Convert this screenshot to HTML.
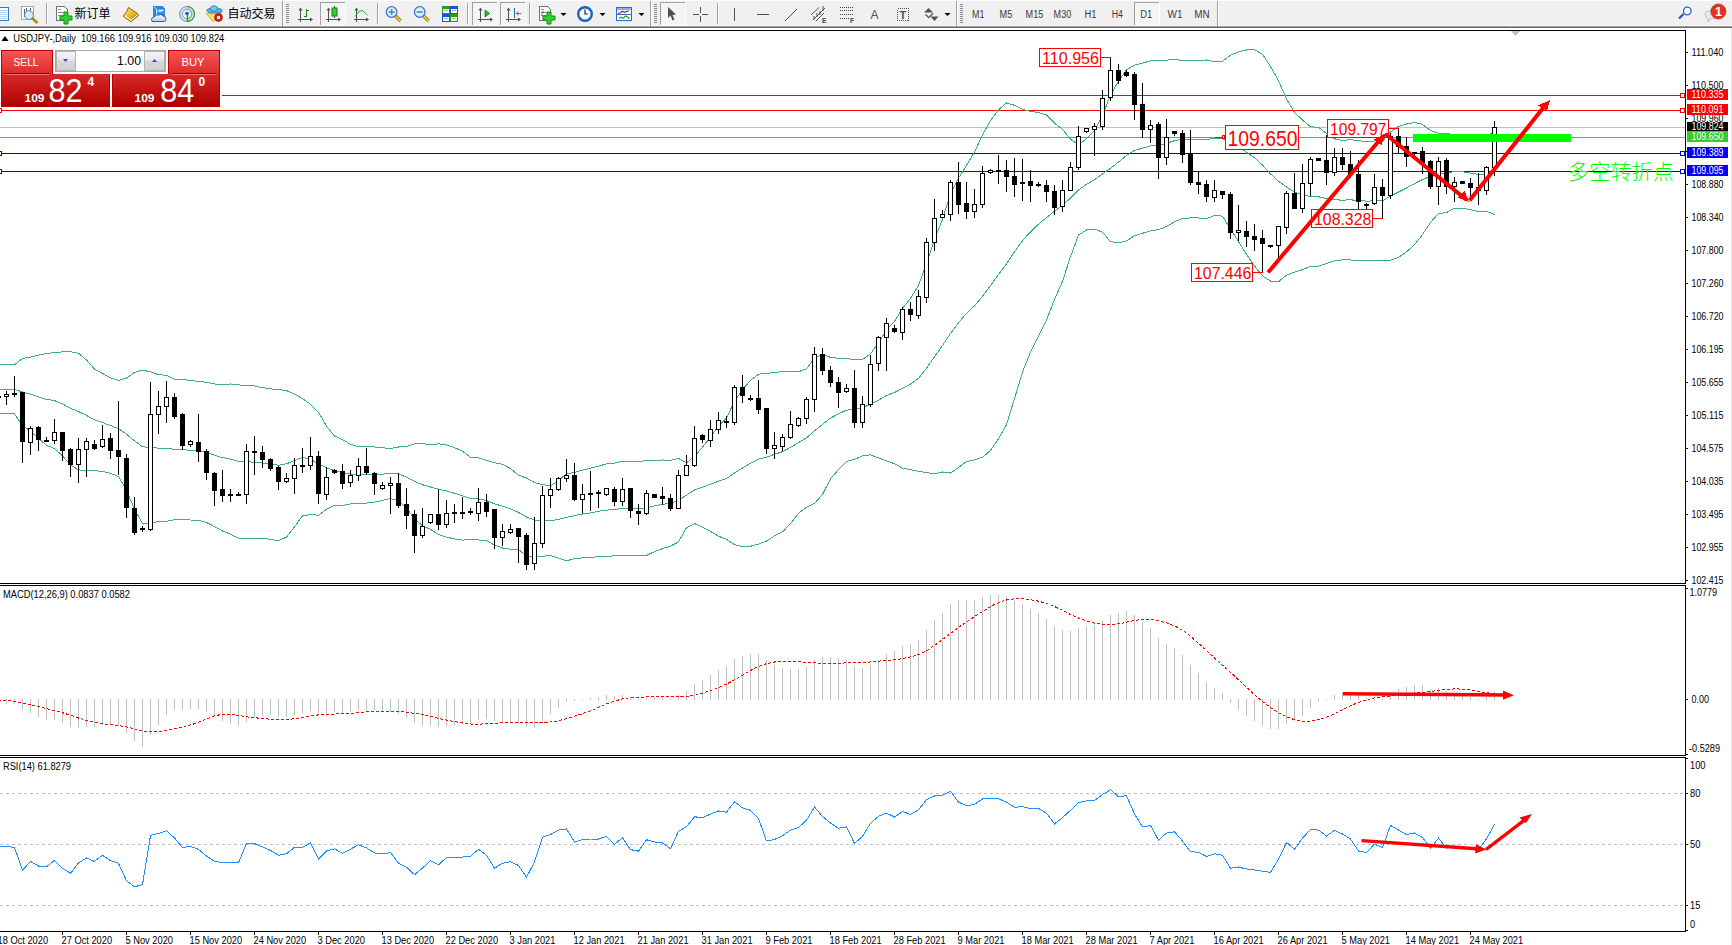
<!DOCTYPE html>
<html><head><meta charset="utf-8"><title>USDJPY Daily</title>
<style>html,body{margin:0;padding:0;background:#fff;width:1732px;height:945px;overflow:hidden}svg{display:block}</style>
</head><body>
<svg width="1732" height="945" viewBox="0 0 1732 945" shape-rendering="crispEdges">
<rect x="0" y="0" width="1732" height="945" fill="#fff"/><rect x="0" y="95" width="1685" height="1" fill="#f00"/><rect x="0" y="110" width="1685" height="1" fill="#f00"/><rect x="0" y="127" width="1685" height="1" fill="#c0c0c0"/><rect x="0" y="137" width="1685" height="1" fill="#32cd32"/><rect x="0" y="153" width="1685" height="1" fill="#00f"/><rect x="0" y="171" width="1685" height="1" fill="#00f"/><rect x="-2.5" y="108.5" width="4" height="4" fill="#fff" stroke="#f00" stroke-width="1"/><rect x="-2.5" y="151.5" width="4" height="4" fill="#fff" stroke="#00f" stroke-width="1"/><rect x="-2.5" y="169.5" width="4" height="4" fill="#fff" stroke="#00f" stroke-width="1"/><rect x="1680.5" y="93.5" width="4" height="4" fill="#fff" stroke="#f00" stroke-width="1"/><rect x="1680.5" y="108.5" width="4" height="4" fill="#fff" stroke="#f00" stroke-width="1"/><rect x="1680.5" y="151.5" width="4" height="4" fill="#fff" stroke="#00f" stroke-width="1"/><rect x="1680.5" y="169.5" width="4" height="4" fill="#fff" stroke="#00f" stroke-width="1"/><polyline points="-2,364.6 6.5,364.6 14.5,364.8 22.5,358.5 30.5,357.1 38.5,355.1 46.5,353.5 54.5,352.7 62.5,351.9 70.5,351.6 78.5,353.3 86.5,360.0 94.5,369.1 102.5,373.5 110.5,377.9 118.5,380.4 126.5,378.1 134.5,372.4 142.5,370.1 150.5,371.9 158.5,374.7 166.5,375.3 174.5,379.1 182.5,379.3 190.5,380.6 198.5,381.3 206.5,382.4 214.5,384.0 222.5,384.2 230.5,384.0 238.5,384.8 246.5,385.7 254.5,385.9 262.5,387.7 270.5,388.8 278.5,389.7 286.5,390.5 294.5,394.1 302.5,398.7 310.5,404.2 318.5,412.3 326.5,426.1 334.5,436.1 342.5,439.5 350.5,444.3 358.5,446.7 366.5,446.7 374.5,447.0 382.5,447.7 390.5,448.6 398.5,447.0 406.5,446.7 414.5,443.8 422.5,443.7 430.5,444.7 438.5,443.9 446.5,444.7 454.5,447.7 462.5,451.2 470.5,457.3 478.5,457.8 486.5,460.4 494.5,462.6 502.5,464.4 510.5,468.5 518.5,475.3 526.5,478.0 534.5,482.5 542.5,484.6 550.5,486.0 558.5,480.4 566.5,473.9 574.5,472.4 582.5,470.1 590.5,468.2 598.5,466.2 606.5,463.8 614.5,463.2 622.5,461.2 630.5,461.2 638.5,461.8 646.5,460.4 654.5,460.2 662.5,460.0 670.5,460.4 678.5,458.5 686.5,462.8 694.5,456.4 702.5,447.2 710.5,436.9 718.5,426.4 726.5,417.9 734.5,401.3 742.5,389.6 750.5,380.3 758.5,374.2 766.5,373.2 774.5,372.8 782.5,371.5 790.5,371.1 798.5,371.8 806.5,368.7 814.5,358.1 822.5,354.3 830.5,357.4 838.5,358.3 846.5,358.8 854.5,359.3 862.5,359.5 870.5,353.9 878.5,342.6 886.5,329.8 894.5,321.4 902.5,308.5 910.5,298.4 918.5,285.5 926.5,263.6 934.5,239.7 942.5,219.3 950.5,194.0 958.5,178.1 966.5,165.5 974.5,152.0 982.5,134.9 990.5,120.5 998.5,109.9 1006.5,102.9 1014.5,105.3 1022.5,109.3 1030.5,111.4 1038.5,112.5 1046.5,115.0 1054.5,123.2 1062.5,129.3 1070.5,139.2 1078.5,145.0 1086.5,138.6 1094.5,130.3 1102.5,115.7 1110.5,94.9 1118.5,81.4 1126.5,69.7 1134.5,65.1 1142.5,63.1 1150.5,60.9 1158.5,60.9 1166.5,60.1 1174.5,59.7 1182.5,60.3 1190.5,60.5 1198.5,60.5 1206.5,60.0 1214.5,61.8 1222.5,61.4 1230.5,55.2 1238.5,51.8 1246.5,50.0 1254.5,49.6 1262.5,54.3 1270.5,66.6 1278.5,80.7 1286.5,98.9 1294.5,112.3 1302.5,120.1 1310.5,126.8 1318.5,127.3 1326.5,133.5 1334.5,138.8 1342.5,140.6 1350.5,139.6 1358.5,140.9 1366.5,141.3 1374.5,141.0 1382.5,141.1 1390.5,132.0 1398.5,126.4 1406.5,124.0 1414.5,122.5 1422.5,124.4 1430.5,130.6 1438.5,133.1 1446.5,133.3 1454.5,135.2 1462.5,135.2 1470.5,136.4 1478.5,137.6 1486.5,137.2 1494.5,130.9" fill="none" stroke="#3cb371" stroke-width="1"/><polyline points="-2,389.0 6.5,389.0 14.5,389.4 22.5,392.0 30.5,394.1 38.5,396.8 46.5,399.4 54.5,400.6 62.5,403.9 70.5,408.3 78.5,411.5 86.5,415.4 94.5,419.9 102.5,422.5 110.5,425.6 118.5,428.5 126.5,434.2 134.5,440.8 142.5,446.8 150.5,447.4 158.5,448.1 166.5,448.3 174.5,449.4 182.5,449.6 190.5,450.3 198.5,450.9 206.5,452.4 214.5,455.3 222.5,457.6 230.5,459.1 238.5,461.4 246.5,461.9 254.5,462.1 262.5,463.1 270.5,464.0 278.5,465.3 286.5,463.8 294.5,460.5 302.5,457.3 310.5,459.4 318.5,463.8 326.5,467.8 334.5,470.6 342.5,472.5 350.5,474.1 358.5,474.9 366.5,474.9 374.5,474.6 382.5,474.1 390.5,473.5 398.5,474.0 406.5,477.2 414.5,481.4 422.5,484.7 430.5,487.0 438.5,489.2 446.5,490.9 454.5,493.3 462.5,495.7 470.5,498.4 478.5,498.9 486.5,500.6 494.5,503.8 502.5,506.2 510.5,508.9 518.5,512.4 526.5,517.0 534.5,520.0 542.5,520.4 550.5,520.7 558.5,519.4 566.5,517.4 574.5,515.6 582.5,514.0 590.5,512.9 598.5,511.3 606.5,510.1 614.5,509.5 622.5,508.3 630.5,508.3 638.5,508.9 646.5,507.9 654.5,505.9 662.5,504.3 670.5,503.3 678.5,500.2 686.5,495.2 694.5,490.0 702.5,487.2 710.5,484.2 718.5,481.3 726.5,478.6 734.5,473.0 742.5,468.0 750.5,463.3 758.5,459.1 766.5,457.1 774.5,454.3 782.5,451.7 790.5,447.4 798.5,442.6 806.5,437.9 814.5,430.8 822.5,424.4 830.5,418.1 838.5,413.9 846.5,410.1 854.5,409.4 862.5,407.6 870.5,404.4 878.5,400.2 886.5,395.4 894.5,392.6 902.5,388.3 910.5,384.1 918.5,378.4 926.5,368.1 934.5,356.8 942.5,345.6 950.5,333.5 958.5,322.8 966.5,313.4 974.5,305.9 982.5,296.1 990.5,285.5 998.5,274.4 1006.5,263.7 1014.5,251.8 1022.5,240.7 1030.5,231.8 1038.5,224.2 1046.5,217.5 1054.5,211.3 1062.5,205.4 1070.5,198.0 1078.5,190.0 1086.5,184.3 1094.5,179.7 1102.5,173.9 1110.5,168.3 1118.5,162.1 1126.5,155.4 1134.5,150.4 1142.5,148.2 1150.5,145.9 1158.5,145.3 1166.5,143.3 1174.5,140.7 1182.5,139.3 1190.5,139.2 1198.5,139.2 1206.5,139.4 1214.5,138.6 1222.5,138.8 1230.5,142.1 1238.5,146.8 1246.5,152.2 1254.5,157.8 1262.5,165.1 1270.5,173.9 1278.5,181.2 1286.5,187.0 1294.5,192.2 1302.5,194.9 1310.5,196.6 1318.5,196.8 1326.5,198.5 1334.5,199.7 1342.5,200.2 1350.5,199.8 1358.5,200.6 1366.5,201.1 1374.5,200.9 1382.5,200.9 1390.5,196.1 1398.5,192.0 1406.5,188.0 1414.5,183.6 1422.5,179.5 1430.5,176.5 1438.5,173.3 1446.5,172.9 1454.5,171.6 1462.5,171.7 1470.5,173.1 1478.5,174.5 1486.5,174.3 1494.5,172.8" fill="none" stroke="#3cb371" stroke-width="1"/><polyline points="-2,413.5 6.5,413.5 14.5,414.0 22.5,425.6 30.5,431.1 38.5,438.5 46.5,445.3 54.5,448.5 62.5,455.9 70.5,465.0 78.5,469.8 86.5,470.7 94.5,470.6 102.5,471.5 110.5,473.4 118.5,476.5 126.5,490.4 134.5,509.2 142.5,523.5 150.5,522.9 158.5,521.6 166.5,521.3 174.5,519.8 182.5,519.9 190.5,520.0 198.5,520.4 206.5,522.5 214.5,526.6 222.5,531.0 230.5,534.2 238.5,538.1 246.5,538.2 254.5,538.2 262.5,538.5 270.5,539.3 278.5,540.8 286.5,537.1 294.5,526.8 302.5,515.9 310.5,514.6 318.5,515.2 326.5,509.4 334.5,505.1 342.5,505.4 350.5,503.9 358.5,503.1 366.5,503.1 374.5,502.1 382.5,500.4 390.5,498.4 398.5,500.9 406.5,507.7 414.5,519.0 422.5,525.7 430.5,529.4 438.5,534.5 446.5,537.1 454.5,538.9 462.5,540.1 470.5,539.5 478.5,539.9 486.5,540.8 494.5,545.0 502.5,548.0 510.5,549.3 518.5,549.5 526.5,556.0 534.5,557.4 542.5,556.3 550.5,555.5 558.5,558.3 566.5,560.8 574.5,558.7 582.5,557.8 590.5,557.6 598.5,556.5 606.5,556.3 614.5,555.9 622.5,555.5 630.5,555.4 638.5,556.0 646.5,555.5 654.5,551.6 662.5,548.6 670.5,546.1 678.5,541.9 686.5,527.7 694.5,523.6 702.5,527.2 710.5,531.4 718.5,536.2 726.5,539.3 734.5,544.7 742.5,546.5 750.5,546.3 758.5,544.1 766.5,541.1 774.5,535.9 782.5,531.9 790.5,523.7 798.5,513.4 806.5,507.1 814.5,503.5 822.5,494.5 830.5,478.8 838.5,469.5 846.5,461.4 854.5,459.4 862.5,455.7 870.5,454.8 878.5,457.9 886.5,460.9 894.5,463.7 902.5,468.1 910.5,469.8 918.5,471.3 926.5,472.6 934.5,473.8 942.5,472.0 950.5,473.1 958.5,467.5 966.5,461.4 974.5,459.9 982.5,457.3 990.5,450.4 998.5,438.8 1006.5,424.6 1014.5,398.4 1022.5,372.2 1030.5,352.2 1038.5,335.8 1046.5,320.1 1054.5,299.4 1062.5,281.4 1070.5,256.7 1078.5,235.0 1086.5,230.0 1094.5,229.1 1102.5,232.1 1110.5,241.7 1118.5,242.9 1126.5,241.0 1134.5,235.7 1142.5,233.3 1150.5,230.9 1158.5,229.7 1166.5,226.5 1174.5,221.8 1182.5,218.4 1190.5,217.9 1198.5,217.9 1206.5,218.8 1214.5,215.4 1222.5,216.2 1230.5,228.9 1238.5,241.7 1246.5,254.4 1254.5,266.0 1262.5,275.9 1270.5,281.1 1278.5,281.7 1286.5,275.2 1294.5,272.2 1302.5,269.7 1310.5,266.4 1318.5,266.2 1326.5,263.5 1334.5,260.7 1342.5,259.8 1350.5,260.0 1358.5,260.4 1366.5,260.8 1374.5,260.8 1382.5,260.8 1390.5,260.3 1398.5,257.5 1406.5,251.9 1414.5,244.7 1422.5,234.6 1430.5,222.4 1438.5,213.5 1446.5,212.6 1454.5,208.1 1462.5,208.2 1470.5,209.7 1478.5,211.5 1486.5,211.3 1494.5,214.6" fill="none" stroke="#3cb371" stroke-width="1"/><path d="M-2 396h1v3h-1zM-4 396h5v2h-5zM6 391h1v14h-1zM4 394h5v3h-5zM14 376h1v21h-1zM12 393h5v2h-5zM22 392h1v71h-1zM20 392h5v50h-5zM30 426h1v29h-1zM28 428h5v15h-5zM38 426h1v25h-1zM36 427h5v13h-5zM46 437h1v5h-1zM44 440h5v2h-5zM54 419h1v25h-1zM52 432h5v9h-5zM62 432h1v29h-1zM60 432h5v19h-5zM70 448h1v29h-1zM68 449h5v16h-5zM78 438h1v45h-1zM76 449h5v16h-5zM86 438h1v39h-1zM84 441h5v9h-5zM94 440h1v10h-1zM92 444h5v5h-5zM102 425h1v23h-1zM100 439h5v8h-5zM110 433h1v26h-1zM108 438h5v13h-5zM118 401h1v74h-1zM116 450h5v7h-5zM126 454h1v64h-1zM124 458h5v50h-5zM134 497h1v38h-1zM132 508h5v25h-5zM142 526h1v6h-1zM140 528h5v2h-5zM150 382h1v149h-1zM148 414h5v116h-5zM158 391h1v43h-1zM156 406h5v9h-5zM166 381h1v42h-1zM164 397h5v10h-5zM174 393h1v26h-1zM172 397h5v20h-5zM182 413h1v37h-1zM180 414h5v32h-5zM190 440h1v7h-1zM188 441h5v4h-5zM198 414h1v48h-1zM196 442h5v10h-5zM206 449h1v31h-1zM204 451h5v22h-5zM214 472h1v34h-1zM212 473h5v18h-5zM222 470h1v32h-1zM220 489h5v7h-5zM230 489h1v13h-1zM228 494h5v2h-5zM238 492h1v4h-1zM236 494h5v2h-5zM246 444h1v60h-1zM244 451h5v44h-5zM254 436h1v39h-1zM252 451h5v2h-5zM262 446h1v22h-1zM260 452h5v8h-5zM270 458h1v13h-1zM268 459h5v10h-5zM278 466h1v24h-1zM276 467h5v15h-5zM286 473h1v10h-1zM284 478h5v4h-5zM294 458h1v36h-1zM292 465h5v14h-5zM302 448h1v25h-1zM300 465h5v2h-5zM310 437h1v33h-1zM308 456h5v10h-5zM318 451h1v53h-1zM316 456h5v38h-5zM326 467h1v33h-1zM324 477h5v18h-5zM334 469h1v5h-1zM332 470h5v3h-5zM342 464h1v25h-1zM340 471h5v13h-5zM350 470h1v17h-1zM348 475h5v8h-5zM358 458h1v23h-1zM356 466h5v10h-5zM366 448h1v27h-1zM364 466h5v7h-5zM374 472h1v23h-1zM372 473h5v11h-5zM382 482h1v8h-1zM380 485h5v4h-5zM390 477h1v37h-1zM388 483h5v3h-5zM398 473h1v35h-1zM396 483h5v23h-5zM406 488h1v41h-1zM404 504h5v12h-5zM414 510h1v43h-1zM412 514h5v22h-5zM422 508h1v30h-1zM420 526h5v10h-5zM430 514h1v10h-1zM428 514h5v9h-5zM438 489h1v41h-1zM436 514h5v11h-5zM446 500h1v28h-1zM444 513h5v12h-5zM454 504h1v19h-1zM452 512h5v2h-5zM462 497h1v22h-1zM460 512h5v2h-5zM470 508h1v7h-1zM468 511h5v2h-5zM478 488h1v33h-1zM476 502h5v12h-5zM486 494h1v23h-1zM484 502h5v10h-5zM494 509h1v40h-1zM492 509h5v29h-5zM502 524h1v22h-1zM500 531h5v7h-5zM510 524h1v10h-1zM508 529h5v4h-5zM518 528h1v35h-1zM516 528h5v9h-5zM526 533h1v37h-1zM524 535h5v30h-5zM534 517h1v53h-1zM532 543h5v21h-5zM542 486h1v62h-1zM540 495h5v49h-5zM550 478h1v30h-1zM548 489h5v7h-5zM558 477h1v14h-1zM556 478h5v12h-5zM566 459h1v23h-1zM564 475h5v4h-5zM574 463h1v38h-1zM572 475h5v25h-5zM582 484h1v29h-1zM580 494h5v6h-5zM590 471h1v40h-1zM588 493h5v2h-5zM598 490h1v18h-1zM596 492h5v2h-5zM606 488h1v8h-1zM604 488h5v7h-5zM614 487h1v19h-1zM612 489h5v13h-5zM622 478h1v28h-1zM620 489h5v13h-5zM630 488h1v30h-1zM628 488h5v23h-5zM638 504h1v21h-1zM636 511h5v3h-5zM646 490h1v25h-1zM644 493h5v21h-5zM654 494h1v4h-1zM652 494h5v4h-5zM662 487h1v18h-1zM660 496h5v3h-5zM670 494h1v17h-1zM668 498h5v11h-5zM678 470h1v39h-1zM676 475h5v34h-5zM686 455h1v21h-1zM684 465h5v11h-5zM694 426h1v41h-1zM692 438h5v28h-5zM702 434h1v9h-1zM700 435h5v5h-5zM710 420h1v27h-1zM708 429h5v12h-5zM718 412h1v22h-1zM716 420h5v10h-5zM726 416h1v12h-1zM724 421h5v2h-5zM734 385h1v40h-1zM732 387h5v36h-5zM742 375h1v28h-1zM740 387h5v9h-5zM750 395h1v6h-1zM748 398h5v2h-5zM758 380h1v34h-1zM756 398h5v12h-5zM766 408h1v46h-1zM764 408h5v41h-5zM774 432h1v27h-1zM772 445h5v4h-5zM782 434h1v17h-1zM780 437h5v10h-5zM790 411h1v28h-1zM788 424h5v14h-5zM798 417h1v10h-1zM796 418h5v8h-5zM806 397h1v27h-1zM804 399h5v20h-5zM814 347h1v65h-1zM812 354h5v46h-5zM822 348h1v27h-1zM820 354h5v17h-5zM830 366h1v21h-1zM828 370h5v13h-5zM838 377h1v31h-1zM836 382h5v11h-5zM846 384h1v9h-1zM844 388h5v4h-5zM854 370h1v58h-1zM852 388h5v35h-5zM862 396h1v32h-1zM860 404h5v19h-5zM870 355h1v52h-1zM868 364h5v41h-5zM878 336h1v35h-1zM876 337h5v27h-5zM886 318h1v53h-1zM884 323h5v15h-5zM894 325h1v8h-1zM892 328h5v4h-5zM902 307h1v33h-1zM900 309h5v24h-5zM910 302h1v19h-1zM908 309h5v6h-5zM918 290h1v29h-1zM916 296h5v20h-5zM926 238h1v65h-1zM924 242h5v56h-5zM934 199h1v52h-1zM932 218h5v25h-5zM942 210h1v8h-1zM940 214h5v4h-5zM950 180h1v41h-1zM948 182h5v33h-5zM958 162h1v52h-1zM956 182h5v23h-5zM966 182h1v37h-1zM964 203h5v9h-5zM974 189h1v29h-1zM972 204h5v8h-5zM982 166h1v42h-1zM980 173h5v32h-5zM990 169h1v5h-1zM988 170h5v3h-5zM998 155h1v29h-1zM996 170h5v2h-5zM1006 160h1v32h-1zM1004 170h5v7h-5zM1014 158h1v39h-1zM1012 176h5v9h-5zM1022 159h1v42h-1zM1020 182h5v2h-5zM1030 170h1v32h-1zM1028 181h5v5h-5zM1038 182h1v5h-1zM1036 184h5v2h-5zM1046 180h1v22h-1zM1044 185h5v7h-5zM1054 185h1v30h-1zM1052 191h5v17h-5zM1062 180h1v32h-1zM1060 190h5v17h-5zM1070 162h1v29h-1zM1068 167h5v24h-5zM1078 126h1v44h-1zM1076 136h5v32h-5zM1086 128h1v5h-1zM1084 128h5v4h-5zM1094 123h1v33h-1zM1092 126h5v4h-5zM1102 90h1v40h-1zM1100 98h5v29h-5zM1110 57h1v44h-1zM1108 70h5v28h-5zM1118 64h1v20h-1zM1116 70h5v11h-5zM1126 70h1v7h-1zM1124 72h5v4h-5zM1134 72h1v48h-1zM1132 74h5v31h-5zM1142 83h1v55h-1zM1140 104h5v26h-5zM1150 120h1v23h-1zM1148 125h5v5h-5zM1158 122h1v57h-1zM1156 124h5v34h-5zM1166 119h1v46h-1zM1164 137h5v21h-5zM1174 131h1v5h-1zM1172 131h5v3h-5zM1182 130h1v33h-1zM1180 133h5v22h-5zM1190 130h1v55h-1zM1188 153h5v30h-5zM1198 171h1v23h-1zM1196 182h5v3h-5zM1206 180h1v22h-1zM1204 184h5v13h-5zM1214 180h1v22h-1zM1212 190h5v8h-5zM1222 191h1v8h-1zM1220 191h5v4h-5zM1230 192h1v47h-1zM1228 194h5v39h-5zM1238 205h1v36h-1zM1236 230h5v3h-5zM1246 221h1v26h-1zM1244 231h5v6h-5zM1254 224h1v27h-1zM1252 236h5v4h-5zM1262 230h1v42h-1zM1260 238h5v6h-5zM1270 245h1v3h-1zM1268 245h5v2h-5zM1278 226h1v33h-1zM1276 226h5v20h-5zM1286 191h1v43h-1zM1284 193h5v35h-5zM1294 173h1v36h-1zM1292 193h5v16h-5zM1302 164h1v49h-1zM1300 183h5v26h-5zM1310 157h1v39h-1zM1308 159h5v25h-5zM1318 158h1v3h-1zM1316 158h5v3h-5zM1326 135h1v50h-1zM1324 160h5v13h-5zM1334 148h1v28h-1zM1332 157h5v16h-5zM1342 148h1v22h-1zM1340 157h5v8h-5zM1350 151h1v27h-1zM1348 164h5v11h-5zM1358 160h1v59h-1zM1356 174h5v28h-5zM1366 203h1v7h-1zM1364 204h5v2h-5zM1374 174h1v31h-1zM1372 187h5v17h-5zM1382 179h1v40h-1zM1380 187h5v9h-5zM1390 133h1v66h-1zM1388 136h5v60h-5zM1398 128h1v26h-1zM1396 136h5v11h-5zM1406 137h1v30h-1zM1404 146h5v11h-5zM1414 152h1v5h-1zM1412 152h5v2h-5zM1422 147h1v27h-1zM1420 151h5v12h-5zM1430 160h1v29h-1zM1428 161h5v26h-5zM1438 157h1v48h-1zM1436 161h5v26h-5zM1446 158h1v36h-1zM1444 160h5v27h-5zM1454 177h1v25h-1zM1452 182h5v5h-5zM1462 181h1v3h-1zM1460 181h5v3h-5zM1470 178h1v20h-1zM1468 183h5v5h-5zM1478 173h1v32h-1zM1476 187h5v4h-5zM1486 166h1v29h-1zM1484 167h5v24h-5zM1494 121h1v55h-1zM1492 127h5v41h-5z" fill="#000"/><path d="M5 395h3v1h-3zM29 429h3v13h-3zM53 433h3v7h-3zM77 450h3v14h-3zM85 442h3v7h-3zM101 440h3v6h-3zM149 415h3v114h-3zM157 407h3v7h-3zM165 398h3v8h-3zM189 442h3v2h-3zM245 452h3v42h-3zM285 479h3v2h-3zM293 466h3v12h-3zM309 457h3v8h-3zM325 478h3v16h-3zM349 476h3v6h-3zM357 467h3v8h-3zM381 486h3v2h-3zM389 484h3v1h-3zM421 527h3v8h-3zM429 515h3v7h-3zM445 514h3v10h-3zM477 503h3v10h-3zM501 532h3v5h-3zM509 530h3v2h-3zM533 544h3v19h-3zM541 496h3v47h-3zM549 490h3v5h-3zM557 479h3v10h-3zM565 476h3v2h-3zM581 495h3v4h-3zM605 489h3v5h-3zM621 490h3v11h-3zM645 494h3v19h-3zM677 476h3v32h-3zM685 466h3v9h-3zM693 439h3v26h-3zM709 430h3v10h-3zM717 421h3v8h-3zM733 388h3v34h-3zM773 446h3v2h-3zM781 438h3v8h-3zM789 425h3v12h-3zM797 419h3v6h-3zM805 400h3v18h-3zM813 355h3v44h-3zM845 389h3v2h-3zM861 405h3v17h-3zM869 365h3v39h-3zM877 338h3v25h-3zM885 324h3v13h-3zM901 310h3v22h-3zM917 297h3v18h-3zM925 243h3v54h-3zM933 219h3v23h-3zM941 215h3v2h-3zM949 183h3v31h-3zM973 205h3v6h-3zM981 174h3v30h-3zM989 171h3v1h-3zM1061 191h3v15h-3zM1069 168h3v22h-3zM1077 137h3v30h-3zM1085 129h3v2h-3zM1093 127h3v2h-3zM1101 99h3v27h-3zM1109 71h3v26h-3zM1149 126h3v3h-3zM1165 138h3v19h-3zM1213 191h3v6h-3zM1237 231h3v1h-3zM1277 227h3v18h-3zM1285 194h3v33h-3zM1301 184h3v24h-3zM1309 160h3v23h-3zM1333 158h3v14h-3zM1373 188h3v15h-3zM1389 137h3v58h-3zM1437 162h3v24h-3zM1453 183h3v3h-3zM1485 168h3v22h-3zM1493 128h3v39h-3z" fill="#fff"/><rect x="1413" y="134" width="158" height="8" fill="#0f0"/><path d="M1101 57h10v1h-10z M1389 128h10v1h-10z M1253 272h10v1h-10z M1373 218h10v1h-10z M1215 137h7v1h-7z" fill="#f00"/><rect x="1222.5" y="135.5" width="2" height="3" fill="#fff" stroke="#f00" stroke-width="1"/><rect x="1039.5" y="48.5" width="61" height="18" fill="#fff" stroke="#f00" stroke-width="1"/><text x="1042" y="63.8" font-size="16.5" fill="#f00" text-anchor="start" font-family="'Liberation Sans',sans-serif" textLength="57" lengthAdjust="spacingAndGlyphs" >110.956</text><rect x="1225.5" y="125.5" width="73" height="24" fill="#fff" stroke="#f00" stroke-width="1"/><text x="1227.5" y="145.6" font-size="21.5" fill="#f00" text-anchor="start" font-family="'Liberation Sans',sans-serif" textLength="70" lengthAdjust="spacingAndGlyphs" >109.650</text><rect x="1327.5" y="119.5" width="61" height="18" fill="#fff" stroke="#f00" stroke-width="1"/><text x="1330" y="135" font-size="16.5" fill="#f00" text-anchor="start" font-family="'Liberation Sans',sans-serif" textLength="56.5" lengthAdjust="spacingAndGlyphs" >109.797</text><rect x="1191.5" y="263.5" width="61" height="18" fill="#fff" stroke="#f00" stroke-width="1"/><text x="1194" y="278.5" font-size="16.5" fill="#f00" text-anchor="start" font-family="'Liberation Sans',sans-serif" textLength="57.3" lengthAdjust="spacingAndGlyphs" >107.446</text><rect x="1311.5" y="209.5" width="61" height="18" fill="#fff" stroke="#f00" stroke-width="1"/><text x="1314" y="224.8" font-size="16.5" fill="#f00" text-anchor="start" font-family="'Liberation Sans',sans-serif" textLength="57.3" lengthAdjust="spacingAndGlyphs" >108.328</text><line x1="1268" y1="272.5" x2="1383" y2="136" stroke="#f00" stroke-width="4" shape-rendering="auto"/><polygon points="1383,136 1374,139.5 1381.5,145" fill="#f00" shape-rendering="auto"/><line x1="1385.5" y1="134" x2="1466" y2="199.5" stroke="#f00" stroke-width="4" shape-rendering="auto"/><polygon points="1466,199.5 1458,197.5 1464.5,191" fill="#f00" shape-rendering="auto"/><line x1="1469.5" y1="200.5" x2="1547" y2="103" stroke="#f00" stroke-width="4" shape-rendering="auto"/><polygon points="1547,103 1538,105.5 1547,110.5" fill="#f00" shape-rendering="auto"/><polygon points="1386,133 1374,139.5 1381.5,145" fill="#f00"/><polygon points="1469,202 1458,197.5 1464.5,191" fill="#f00"/><polygon points="1550,100 1538,105.5 1547,110.5" fill="#f00"/><text x="1568" y="178.5" font-size="21" fill="#0f0" text-anchor="start" font-family="'Liberation Sans','Noto Sans CJK SC',sans-serif" textLength="106" lengthAdjust="spacingAndGlyphs" font-weight="300">多空转折点</text><rect x="0" y="48" width="222" height="60" fill="#fff"/><defs>
<linearGradient id="gt" x1="0" y1="0" x2="0" y2="1"><stop offset="0" stop-color="#f65454"/><stop offset="1" stop-color="#e02a2a"/></linearGradient>
<linearGradient id="gb" x1="0" y1="0" x2="0" y2="1"><stop offset="0" stop-color="#d82a2a"/><stop offset="1" stop-color="#b00000"/></linearGradient>
<linearGradient id="gs" x1="0" y1="0" x2="0" y2="1"><stop offset="0" stop-color="#f4f4f4"/><stop offset="0.45" stop-color="#e8e8e8"/><stop offset="0.5" stop-color="#d8d8d8"/><stop offset="1" stop-color="#d0d0d0"/></linearGradient>
<linearGradient id="gtb" x1="0" y1="0" x2="0" y2="1"><stop offset="0" stop-color="#f4f4f4"/><stop offset="1" stop-color="#ececec"/></linearGradient>
</defs><path d="M1 50h52v24h57v33h-109z" fill="#c00000"/><rect x="2" y="51" width="50" height="23" fill="url(#gt)"/><rect x="2" y="74" width="107" height="32" fill="url(#gb)"/><rect x="5" y="73" width="44" height="1" fill="#800000"/><rect x="5" y="74" width="44" height="1" fill="#f07070"/><path d="M168 50h52v57h-108v-33h56z" fill="#c00000"/><rect x="169" y="51" width="50" height="23" fill="url(#gt)"/><rect x="113" y="74" width="106" height="32" fill="url(#gb)"/><rect x="172" y="73" width="44" height="1" fill="#800000"/><rect x="172" y="74" width="44" height="1" fill="#f07070"/><rect x="55.5" y="50.5" width="110" height="21" fill="#fff" stroke="#a8a8a8"/><rect x="56.5" y="51.5" width="19" height="19" fill="url(#gs)" stroke="#b4b4b4"/><rect x="144.5" y="51.5" width="20" height="19" fill="url(#gs)" stroke="#b4b4b4"/><path d="M63 59h5l-2.5 3z" fill="#3050c0" shape-rendering="auto"/><path d="M152 62h5l-2.5-3z" fill="#3050c0" shape-rendering="auto"/><text x="141" y="65" font-size="12.3" fill="#000" text-anchor="end" font-family="'Liberation Sans',sans-serif" >1.00</text><text x="13.5" y="66" font-size="11.8" fill="#fff" text-anchor="start" font-family="'Liberation Sans',sans-serif" textLength="25" lengthAdjust="spacingAndGlyphs" >SELL</text><text x="181.5" y="66" font-size="11.8" fill="#fff" text-anchor="start" font-family="'Liberation Sans',sans-serif" textLength="23" lengthAdjust="spacingAndGlyphs" >BUY</text><text x="24.5" y="101.8" font-size="11.5" fill="#fff" text-anchor="start" font-family="'Liberation Sans',sans-serif" textLength="20" lengthAdjust="spacingAndGlyphs" font-weight="bold">109</text><text x="48.5" y="101.8" font-size="32.5" fill="#fff" text-anchor="start" font-family="'Liberation Sans',sans-serif" textLength="34" lengthAdjust="spacingAndGlyphs" >82</text><text x="87.5" y="85.8" font-size="12" fill="#fff" text-anchor="start" font-family="'Liberation Sans',sans-serif" font-weight="bold">4</text><text x="134.5" y="101.8" font-size="11.5" fill="#fff" text-anchor="start" font-family="'Liberation Sans',sans-serif" textLength="20" lengthAdjust="spacingAndGlyphs" font-weight="bold">109</text><text x="160.2" y="101.8" font-size="32.5" fill="#fff" text-anchor="start" font-family="'Liberation Sans',sans-serif" textLength="34" lengthAdjust="spacingAndGlyphs" >84</text><text x="198.6" y="85.8" font-size="12" fill="#fff" text-anchor="start" font-family="'Liberation Sans',sans-serif" font-weight="bold">0</text><path d="M1.5 41h7l-3.5-5z" fill="#000" shape-rendering="auto"/><text x="13.3" y="42" font-size="10" fill="#000" text-anchor="start" font-family="'Liberation Sans',sans-serif" textLength="211" lengthAdjust="spacingAndGlyphs" >USDJPY-,Daily&#160; 109.166 109.916 109.030 109.824</text><rect x="0" y="30" width="1686" height="1" fill="#000"/><rect x="1685" y="30" width="1" height="554" fill="#000"/><rect x="0" y="583" width="1686" height="1" fill="#000"/><rect x="0" y="585" width="1686" height="1" fill="#000"/><rect x="1685" y="585" width="1" height="171" fill="#000"/><rect x="0" y="755" width="1686" height="1" fill="#000"/><rect x="0" y="757" width="1686" height="1" fill="#000"/><rect x="1685" y="757" width="1" height="175" fill="#000"/><rect x="0" y="931" width="1686" height="1" fill="#000"/><rect x="1731" y="28" width="1" height="917" fill="#e4e4e4"/><path d="M1511 31h9l-4.5 5z" fill="#c0c0c0" shape-rendering="auto"/><rect x="1686" y="52" width="2" height="1" fill="#000"/><text x="1691.5" y="56" font-size="10" fill="#000" text-anchor="start" font-family="'Liberation Sans',sans-serif" textLength="32" lengthAdjust="spacingAndGlyphs" >111.040</text><rect x="1686" y="85" width="2" height="1" fill="#000"/><text x="1691.5" y="89" font-size="10" fill="#000" text-anchor="start" font-family="'Liberation Sans',sans-serif" textLength="32" lengthAdjust="spacingAndGlyphs" >110.500</text><rect x="1686" y="118" width="2" height="1" fill="#000"/><text x="1691.5" y="122" font-size="10" fill="#000" text-anchor="start" font-family="'Liberation Sans',sans-serif" textLength="32" lengthAdjust="spacingAndGlyphs" >109.960</text><rect x="1686" y="151" width="2" height="1" fill="#000"/><rect x="1686" y="184" width="2" height="1" fill="#000"/><text x="1691.5" y="188" font-size="10" fill="#000" text-anchor="start" font-family="'Liberation Sans',sans-serif" textLength="32" lengthAdjust="spacingAndGlyphs" >108.880</text><rect x="1686" y="217" width="2" height="1" fill="#000"/><text x="1691.5" y="221" font-size="10" fill="#000" text-anchor="start" font-family="'Liberation Sans',sans-serif" textLength="32" lengthAdjust="spacingAndGlyphs" >108.340</text><rect x="1686" y="250" width="2" height="1" fill="#000"/><text x="1691.5" y="254" font-size="10" fill="#000" text-anchor="start" font-family="'Liberation Sans',sans-serif" textLength="32" lengthAdjust="spacingAndGlyphs" >107.800</text><rect x="1686" y="283" width="2" height="1" fill="#000"/><text x="1691.5" y="287" font-size="10" fill="#000" text-anchor="start" font-family="'Liberation Sans',sans-serif" textLength="32" lengthAdjust="spacingAndGlyphs" >107.260</text><rect x="1686" y="316" width="2" height="1" fill="#000"/><text x="1691.5" y="320" font-size="10" fill="#000" text-anchor="start" font-family="'Liberation Sans',sans-serif" textLength="32" lengthAdjust="spacingAndGlyphs" >106.720</text><rect x="1686" y="349" width="2" height="1" fill="#000"/><text x="1691.5" y="353" font-size="10" fill="#000" text-anchor="start" font-family="'Liberation Sans',sans-serif" textLength="32" lengthAdjust="spacingAndGlyphs" >106.195</text><rect x="1686" y="382" width="2" height="1" fill="#000"/><text x="1691.5" y="386" font-size="10" fill="#000" text-anchor="start" font-family="'Liberation Sans',sans-serif" textLength="32" lengthAdjust="spacingAndGlyphs" >105.655</text><rect x="1686" y="415" width="2" height="1" fill="#000"/><text x="1691.5" y="419" font-size="10" fill="#000" text-anchor="start" font-family="'Liberation Sans',sans-serif" textLength="32" lengthAdjust="spacingAndGlyphs" >105.115</text><rect x="1686" y="448" width="2" height="1" fill="#000"/><text x="1691.5" y="452" font-size="10" fill="#000" text-anchor="start" font-family="'Liberation Sans',sans-serif" textLength="32" lengthAdjust="spacingAndGlyphs" >104.575</text><rect x="1686" y="481" width="2" height="1" fill="#000"/><text x="1691.5" y="485" font-size="10" fill="#000" text-anchor="start" font-family="'Liberation Sans',sans-serif" textLength="32" lengthAdjust="spacingAndGlyphs" >104.035</text><rect x="1686" y="514" width="2" height="1" fill="#000"/><text x="1691.5" y="518" font-size="10" fill="#000" text-anchor="start" font-family="'Liberation Sans',sans-serif" textLength="32" lengthAdjust="spacingAndGlyphs" >103.495</text><rect x="1686" y="547" width="2" height="1" fill="#000"/><text x="1691.5" y="551" font-size="10" fill="#000" text-anchor="start" font-family="'Liberation Sans',sans-serif" textLength="32" lengthAdjust="spacingAndGlyphs" >102.955</text><rect x="1686" y="580" width="2" height="1" fill="#000"/><text x="1691.5" y="584" font-size="10" fill="#000" text-anchor="start" font-family="'Liberation Sans',sans-serif" textLength="32" lengthAdjust="spacingAndGlyphs" >102.415</text><rect x="1687" y="89" width="41" height="11" fill="#f00"/><text x="1691.5" y="98.1" font-size="10" fill="#fff" text-anchor="start" font-family="'Liberation Sans',sans-serif" textLength="32" lengthAdjust="spacingAndGlyphs" >110.335</text><rect x="1687" y="104" width="41" height="11" fill="#f00"/><text x="1691.5" y="113.1" font-size="10" fill="#fff" text-anchor="start" font-family="'Liberation Sans',sans-serif" textLength="32" lengthAdjust="spacingAndGlyphs" >110.091</text><rect x="1687" y="122" width="41" height="9" fill="#000"/><text x="1691.5" y="130.1" font-size="10" fill="#fff" text-anchor="start" font-family="'Liberation Sans',sans-serif" textLength="32" lengthAdjust="spacingAndGlyphs" >109.824</text><rect x="1687" y="131" width="41" height="11" fill="#32cd32"/><text x="1691.5" y="140.1" font-size="10" fill="#fff" text-anchor="start" font-family="'Liberation Sans',sans-serif" textLength="32" lengthAdjust="spacingAndGlyphs" >109.650</text><rect x="1687" y="147" width="41" height="11" fill="#00f"/><text x="1691.5" y="156.1" font-size="10" fill="#fff" text-anchor="start" font-family="'Liberation Sans',sans-serif" textLength="32" lengthAdjust="spacingAndGlyphs" >109.389</text><rect x="1687" y="165" width="41" height="11" fill="#00f"/><text x="1691.5" y="174.1" font-size="10" fill="#fff" text-anchor="start" font-family="'Liberation Sans',sans-serif" textLength="32" lengthAdjust="spacingAndGlyphs" >109.095</text><path d="M6 699h1v5h-1zM14 699h1v5h-1zM22 699h1v11h-1zM30 699h1v14h-1zM38 699h1v18h-1zM46 699h1v21h-1zM54 699h1v21h-1zM62 699h1v24h-1zM70 699h1v28h-1zM78 699h1v29h-1zM86 699h1v28h-1zM94 699h1v28h-1zM102 699h1v26h-1zM110 699h1v26h-1zM118 699h1v27h-1zM126 699h1v34h-1zM134 699h1v42h-1zM142 699h1v48h-1zM150 699h1v36h-1zM158 699h1v26h-1zM166 699h1v16h-1zM174 699h1v11h-1zM182 699h1v11h-1zM190 699h1v10h-1zM198 699h1v10h-1zM206 699h1v13h-1zM214 699h1v18h-1zM222 699h1v22h-1zM230 699h1v25h-1zM238 699h1v27h-1zM246 699h1v23h-1zM254 699h1v19h-1zM262 699h1v17h-1zM270 699h1v16h-1zM278 699h1v17h-1zM286 699h1v18h-1zM294 699h1v16h-1zM302 699h1v14h-1zM310 699h1v12h-1zM318 699h1v14h-1zM326 699h1v14h-1zM334 699h1v13h-1zM342 699h1v14h-1zM350 699h1v13h-1zM358 699h1v11h-1zM366 699h1v11h-1zM374 699h1v11h-1zM382 699h1v12h-1zM390 699h1v12h-1zM398 699h1v15h-1zM406 699h1v19h-1zM414 699h1v24h-1zM422 699h1v27h-1zM430 699h1v27h-1zM438 699h1v28h-1zM446 699h1v27h-1zM454 699h1v26h-1zM462 699h1v25h-1zM470 699h1v23h-1zM478 699h1v21h-1zM486 699h1v20h-1zM494 699h1v22h-1zM502 699h1v23h-1zM510 699h1v23h-1zM518 699h1v24h-1zM526 699h1v28h-1zM534 699h1v29h-1zM542 699h1v22h-1zM550 699h1v15h-1zM558 699h1v9h-1zM566 699h1v3h-1zM574 699h1v2h-1zM582 699h1v1h-1zM590 698h1v2h-1zM598 697h1v3h-1zM606 695h1v5h-1zM614 696h1v4h-1zM622 695h1v5h-1zM630 697h1v3h-1zM638 699h1v1h-1zM646 698h1v2h-1zM654 697h1v3h-1zM662 697h1v3h-1zM670 699h1v1h-1zM678 695h1v5h-1zM686 691h1v9h-1zM694 684h1v16h-1zM702 680h1v20h-1zM710 675h1v25h-1zM718 670h1v30h-1zM726 666h1v34h-1zM734 659h1v41h-1zM742 656h1v44h-1zM750 654h1v46h-1zM758 654h1v46h-1zM766 660h1v40h-1zM774 665h1v35h-1zM782 668h1v32h-1zM790 669h1v31h-1zM798 669h1v31h-1zM806 667h1v33h-1zM814 660h1v40h-1zM822 657h1v43h-1zM830 657h1v43h-1zM838 658h1v42h-1zM846 660h1v40h-1zM854 666h1v34h-1zM862 668h1v32h-1zM870 665h1v35h-1zM878 660h1v40h-1zM886 654h1v46h-1zM894 651h1v49h-1zM902 646h1v54h-1zM910 644h1v56h-1zM918 640h1v60h-1zM926 630h1v70h-1zM934 620h1v80h-1zM942 613h1v87h-1zM950 604h1v96h-1zM958 600h1v100h-1zM966 600h1v100h-1zM974 600h1v100h-1zM982 597h1v103h-1zM990 595h1v105h-1zM998 595h1v105h-1zM1006 597h1v103h-1zM1014 601h1v99h-1zM1022 604h1v96h-1zM1030 609h1v91h-1zM1038 613h1v87h-1zM1046 619h1v81h-1zM1054 626h1v74h-1zM1062 630h1v70h-1zM1070 631h1v69h-1zM1078 628h1v72h-1zM1086 626h1v74h-1zM1094 625h1v75h-1zM1102 621h1v79h-1zM1110 615h1v85h-1zM1118 613h1v87h-1zM1126 611h1v89h-1zM1134 615h1v85h-1zM1142 622h1v78h-1zM1150 628h1v72h-1zM1158 638h1v62h-1zM1166 644h1v56h-1zM1174 648h1v52h-1zM1182 655h1v45h-1zM1190 665h1v35h-1zM1198 673h1v27h-1zM1206 682h1v18h-1zM1214 688h1v12h-1zM1222 693h1v7h-1zM1230 699h1v4h-1zM1238 699h1v11h-1zM1246 699h1v17h-1zM1254 699h1v22h-1zM1262 699h1v27h-1zM1270 699h1v30h-1zM1278 699h1v30h-1zM1286 699h1v25h-1zM1294 699h1v22h-1zM1302 699h1v17h-1zM1310 699h1v9h-1zM1318 699h1v3h-1zM1326 699h1v1h-1zM1334 695h1v5h-1zM1342 692h1v8h-1zM1350 692h1v8h-1zM1358 695h1v5h-1zM1366 698h1v2h-1zM1374 699h1v1h-1zM1382 699h1v1h-1zM1390 693h1v7h-1zM1398 689h1v11h-1zM1406 687h1v13h-1zM1414 685h1v15h-1zM1422 685h1v15h-1zM1430 689h1v11h-1zM1438 688h1v12h-1zM1446 691h1v9h-1zM1454 693h1v7h-1zM1462 695h1v5h-1zM1470 697h1v3h-1zM1478 699h1v1h-1zM1486 697h1v3h-1zM1494 691h1v9h-1z" fill="#c0c0c0"/><polyline points="-2,700.0 6.5,700.0 14.5,701.2 22.5,702.9 30.5,704.6 38.5,706.6 46.5,708.7 54.5,710.6 62.5,712.7 70.5,715.3 78.5,718.0 86.5,720.6 94.5,722.4 102.5,723.8 110.5,724.8 118.5,725.5 126.5,726.9 134.5,728.9 142.5,731.1 150.5,732.0 158.5,731.7 166.5,730.4 174.5,728.7 182.5,726.9 190.5,725.0 198.5,722.3 206.5,719.1 214.5,715.8 222.5,714.2 230.5,714.2 238.5,715.4 246.5,716.8 254.5,717.7 262.5,718.5 270.5,719.2 278.5,719.6 286.5,719.6 294.5,718.8 302.5,717.6 310.5,715.8 318.5,714.9 326.5,714.3 334.5,714.0 342.5,713.7 350.5,713.3 358.5,712.6 366.5,712.0 374.5,711.7 382.5,711.7 390.5,711.5 398.5,711.6 406.5,712.2 414.5,713.3 422.5,714.7 430.5,716.4 438.5,718.4 446.5,720.1 454.5,721.6 462.5,723.0 470.5,724.0 478.5,724.2 486.5,723.7 494.5,723.3 502.5,722.9 510.5,722.4 518.5,722.1 526.5,722.4 534.5,722.8 542.5,722.6 550.5,722.0 558.5,720.8 566.5,718.6 574.5,716.3 582.5,713.7 590.5,710.8 598.5,707.4 606.5,703.8 614.5,701.1 622.5,698.9 630.5,697.6 638.5,697.3 646.5,696.9 654.5,696.7 662.5,696.7 670.5,696.9 678.5,696.9 686.5,696.4 694.5,695.3 702.5,693.3 710.5,690.6 718.5,687.5 726.5,684.1 734.5,679.9 742.5,675.1 750.5,670.5 758.5,666.4 766.5,663.7 774.5,662.0 782.5,661.3 790.5,661.2 798.5,661.6 806.5,662.4 814.5,662.9 822.5,663.3 830.5,663.6 838.5,663.4 846.5,662.8 854.5,662.5 862.5,662.4 870.5,662.0 878.5,661.1 886.5,660.4 894.5,659.8 902.5,658.6 910.5,656.9 918.5,654.7 926.5,650.8 934.5,645.5 942.5,639.6 950.5,633.4 958.5,627.5 966.5,621.8 974.5,616.7 982.5,611.5 990.5,606.5 998.5,602.6 1006.5,600.0 1014.5,598.7 1022.5,598.8 1030.5,599.7 1038.5,601.2 1046.5,603.3 1054.5,606.5 1062.5,610.4 1070.5,614.5 1078.5,618.0 1086.5,620.8 1094.5,623.1 1102.5,624.4 1110.5,624.6 1118.5,623.9 1126.5,622.2 1134.5,620.5 1142.5,619.5 1150.5,619.5 1158.5,620.8 1166.5,622.9 1174.5,625.9 1182.5,630.4 1190.5,636.2 1198.5,643.2 1206.5,650.6 1214.5,658.0 1222.5,665.2 1230.5,672.4 1238.5,679.8 1246.5,687.3 1254.5,694.7 1262.5,701.4 1270.5,707.6 1278.5,712.8 1286.5,716.7 1294.5,719.8 1302.5,721.3 1310.5,721.1 1318.5,719.6 1326.5,717.2 1334.5,713.8 1342.5,709.7 1350.5,705.6 1358.5,702.4 1366.5,699.9 1374.5,697.9 1382.5,697.0 1390.5,695.9 1398.5,694.7 1406.5,693.8 1414.5,693.0 1422.5,692.2 1430.5,691.5 1438.5,690.4 1446.5,689.6 1454.5,688.9 1462.5,689.1 1470.5,690.1 1478.5,691.4 1486.5,692.8 1494.5,693.4" fill="none" stroke="#f00" stroke-width="1" stroke-dasharray="3 2"/><text x="3" y="598" font-size="10" fill="#000" text-anchor="start" font-family="'Liberation Sans',sans-serif" textLength="127" lengthAdjust="spacingAndGlyphs" >MACD(12,26,9) 0.0837 0.0582</text><rect x="1686" y="588" width="2" height="1" fill="#000"/><rect x="1686" y="699" width="2" height="1" fill="#000"/><rect x="1686" y="754" width="2" height="1" fill="#000"/><text x="1689.5" y="596" font-size="10" fill="#000" text-anchor="start" font-family="'Liberation Sans',sans-serif" textLength="27.5" lengthAdjust="spacingAndGlyphs" >1.0779</text><text x="1691.5" y="702.5" font-size="10" fill="#000" text-anchor="start" font-family="'Liberation Sans',sans-serif" textLength="17.5" lengthAdjust="spacingAndGlyphs" >0.00</text><text x="1689" y="752" font-size="10" fill="#000" text-anchor="start" font-family="'Liberation Sans',sans-serif" textLength="31" lengthAdjust="spacingAndGlyphs" >-0.5289</text><line x1="0" y1="793.5" x2="1685" y2="793.5" stroke="#c0c0c0" stroke-dasharray="3 3"/><line x1="0" y1="844.5" x2="1685" y2="844.5" stroke="#c0c0c0" stroke-dasharray="3 3"/><line x1="0" y1="905.5" x2="1685" y2="905.5" stroke="#c0c0c0" stroke-dasharray="3 3"/><polyline points="-2,846.7 6.5,846.7 14.5,847.3 22.5,870.2 30.5,861.4 38.5,866.0 46.5,866.8 54.5,860.3 62.5,868.2 70.5,873.3 78.5,863.0 86.5,858.0 94.5,861.4 102.5,855.3 110.5,860.6 118.5,863.3 126.5,880.8 134.5,886.8 142.5,884.7 150.5,835.5 158.5,833.4 166.5,830.8 174.5,838.0 182.5,847.5 190.5,846.3 198.5,849.4 206.5,856.1 214.5,861.3 222.5,862.7 230.5,862.4 238.5,862.7 246.5,843.4 254.5,843.6 262.5,846.9 270.5,850.4 278.5,855.3 286.5,853.7 294.5,847.3 302.5,847.5 310.5,842.9 318.5,859.0 326.5,851.0 334.5,848.8 342.5,853.4 350.5,849.1 358.5,844.8 366.5,847.9 374.5,853.0 382.5,853.9 390.5,852.5 398.5,863.1 406.5,867.2 414.5,874.7 422.5,868.1 430.5,860.7 438.5,864.8 446.5,857.5 454.5,857.1 462.5,857.1 470.5,856.3 478.5,849.4 486.5,855.2 494.5,868.2 502.5,863.2 510.5,861.8 518.5,865.5 526.5,877.3 534.5,861.9 542.5,837.1 550.5,834.6 558.5,830.1 566.5,828.9 574.5,842.0 582.5,839.6 590.5,839.0 598.5,839.0 606.5,836.4 614.5,844.5 622.5,837.6 630.5,849.6 638.5,851.2 646.5,839.7 654.5,842.0 662.5,842.9 670.5,848.8 678.5,831.2 686.5,826.8 694.5,816.8 702.5,817.6 710.5,814.1 718.5,811.0 726.5,812.2 734.5,801.8 742.5,807.9 750.5,810.3 758.5,818.4 766.5,841.0 774.5,839.5 782.5,835.7 790.5,830.1 798.5,827.6 806.5,820.2 814.5,806.9 822.5,816.5 830.5,823.0 838.5,828.3 846.5,827.0 854.5,843.5 862.5,836.3 870.5,823.3 878.5,816.3 886.5,813.1 894.5,817.0 902.5,811.6 910.5,814.4 918.5,809.9 926.5,799.6 934.5,796.0 942.5,795.4 950.5,791.1 958.5,802.1 966.5,805.8 974.5,804.4 982.5,799.0 990.5,798.5 998.5,798.6 1006.5,802.3 1014.5,807.2 1022.5,806.7 1030.5,808.5 1038.5,808.3 1046.5,813.3 1054.5,823.9 1062.5,817.6 1070.5,810.3 1078.5,802.5 1086.5,800.9 1094.5,800.4 1102.5,794.5 1110.5,789.8 1118.5,796.7 1126.5,795.7 1134.5,813.9 1142.5,826.9 1150.5,825.5 1158.5,840.1 1166.5,833.1 1174.5,831.8 1182.5,841.0 1190.5,851.7 1198.5,852.2 1206.5,856.6 1214.5,853.8 1222.5,855.3 1230.5,868.2 1238.5,867.0 1246.5,869.0 1254.5,870.0 1262.5,871.3 1270.5,872.4 1278.5,859.2 1286.5,842.4 1294.5,849.2 1302.5,838.2 1310.5,829.5 1318.5,830.1 1326.5,836.0 1334.5,830.3 1342.5,834.0 1350.5,839.0 1358.5,851.0 1366.5,852.4 1374.5,844.1 1382.5,847.7 1390.5,825.4 1398.5,830.0 1406.5,834.5 1414.5,833.0 1422.5,837.6 1430.5,848.2 1438.5,838.1 1446.5,848.1 1454.5,846.3 1462.5,846.8 1470.5,848.5 1478.5,849.6 1486.5,838.9 1494.5,824.3" fill="none" stroke="#1e90ff" stroke-width="1"/><g shape-rendering="auto" fill="#f00"><line x1="1343" y1="693.7" x2="1508" y2="695" stroke="#f00" stroke-width="3.6"/><polygon points="1514,695.2 1503,690.5 1503,699.8"/><line x1="1361.5" y1="840.6" x2="1480" y2="849" stroke="#f00" stroke-width="3.4"/><polygon points="1486.5,849.4 1476,844.2 1475,853.5"/><line x1="1486" y1="849.5" x2="1527" y2="818" stroke="#f00" stroke-width="3.4"/><polygon points="1532,814 1519.5,817.4 1525.8,823.2"/></g><text x="3" y="770" font-size="10" fill="#000" text-anchor="start" font-family="'Liberation Sans',sans-serif" textLength="68" lengthAdjust="spacingAndGlyphs" >RSI(14) 61.8279</text><rect x="1686" y="758" width="2" height="1" fill="#000"/><g transform="translate(1690,769) scale(0.93,1)"><text x="0" y="0" font-size="10" fill="#000" text-anchor="start" font-family="'Liberation Sans',sans-serif" >100</text></g><rect x="1686" y="793" width="2" height="1" fill="#000"/><g transform="translate(1690,797) scale(0.93,1)"><text x="0" y="0" font-size="10" fill="#000" text-anchor="start" font-family="'Liberation Sans',sans-serif" >80</text></g><rect x="1686" y="844" width="2" height="1" fill="#000"/><g transform="translate(1690,848) scale(0.93,1)"><text x="0" y="0" font-size="10" fill="#000" text-anchor="start" font-family="'Liberation Sans',sans-serif" >50</text></g><rect x="1686" y="905" width="2" height="1" fill="#000"/><g transform="translate(1690,909) scale(0.93,1)"><text x="0" y="0" font-size="10" fill="#000" text-anchor="start" font-family="'Liberation Sans',sans-serif" >15</text></g><rect x="1686" y="930" width="2" height="1" fill="#000"/><g transform="translate(1690,928) scale(0.93,1)"><text x="0" y="0" font-size="10" fill="#000" text-anchor="start" font-family="'Liberation Sans',sans-serif" >0</text></g><rect x="-2" y="932" width="1" height="3" fill="#000"/><g transform="translate(-2.5,944) scale(0.93,1)"><text x="0" y="0" font-size="10" fill="#000" text-anchor="start" font-family="'Liberation Sans',sans-serif" >18 Oct 2020</text></g><rect x="62" y="932" width="1" height="3" fill="#000"/><g transform="translate(61.5,944) scale(0.93,1)"><text x="0" y="0" font-size="10" fill="#000" text-anchor="start" font-family="'Liberation Sans',sans-serif" >27 Oct 2020</text></g><rect x="126" y="932" width="1" height="3" fill="#000"/><g transform="translate(125.5,944) scale(0.93,1)"><text x="0" y="0" font-size="10" fill="#000" text-anchor="start" font-family="'Liberation Sans',sans-serif" >5 Nov 2020</text></g><rect x="190" y="932" width="1" height="3" fill="#000"/><g transform="translate(189.5,944) scale(0.93,1)"><text x="0" y="0" font-size="10" fill="#000" text-anchor="start" font-family="'Liberation Sans',sans-serif" >15 Nov 2020</text></g><rect x="254" y="932" width="1" height="3" fill="#000"/><g transform="translate(253.5,944) scale(0.93,1)"><text x="0" y="0" font-size="10" fill="#000" text-anchor="start" font-family="'Liberation Sans',sans-serif" >24 Nov 2020</text></g><rect x="318" y="932" width="1" height="3" fill="#000"/><g transform="translate(317.5,944) scale(0.93,1)"><text x="0" y="0" font-size="10" fill="#000" text-anchor="start" font-family="'Liberation Sans',sans-serif" >3 Dec 2020</text></g><rect x="382" y="932" width="1" height="3" fill="#000"/><g transform="translate(381.5,944) scale(0.93,1)"><text x="0" y="0" font-size="10" fill="#000" text-anchor="start" font-family="'Liberation Sans',sans-serif" >13 Dec 2020</text></g><rect x="446" y="932" width="1" height="3" fill="#000"/><g transform="translate(445.5,944) scale(0.93,1)"><text x="0" y="0" font-size="10" fill="#000" text-anchor="start" font-family="'Liberation Sans',sans-serif" >22 Dec 2020</text></g><rect x="510" y="932" width="1" height="3" fill="#000"/><g transform="translate(509.5,944) scale(0.93,1)"><text x="0" y="0" font-size="10" fill="#000" text-anchor="start" font-family="'Liberation Sans',sans-serif" >3 Jan 2021</text></g><rect x="574" y="932" width="1" height="3" fill="#000"/><g transform="translate(573.5,944) scale(0.93,1)"><text x="0" y="0" font-size="10" fill="#000" text-anchor="start" font-family="'Liberation Sans',sans-serif" >12 Jan 2021</text></g><rect x="638" y="932" width="1" height="3" fill="#000"/><g transform="translate(637.5,944) scale(0.93,1)"><text x="0" y="0" font-size="10" fill="#000" text-anchor="start" font-family="'Liberation Sans',sans-serif" >21 Jan 2021</text></g><rect x="702" y="932" width="1" height="3" fill="#000"/><g transform="translate(701.5,944) scale(0.93,1)"><text x="0" y="0" font-size="10" fill="#000" text-anchor="start" font-family="'Liberation Sans',sans-serif" >31 Jan 2021</text></g><rect x="766" y="932" width="1" height="3" fill="#000"/><g transform="translate(765.5,944) scale(0.93,1)"><text x="0" y="0" font-size="10" fill="#000" text-anchor="start" font-family="'Liberation Sans',sans-serif" >9 Feb 2021</text></g><rect x="830" y="932" width="1" height="3" fill="#000"/><g transform="translate(829.5,944) scale(0.93,1)"><text x="0" y="0" font-size="10" fill="#000" text-anchor="start" font-family="'Liberation Sans',sans-serif" >18 Feb 2021</text></g><rect x="894" y="932" width="1" height="3" fill="#000"/><g transform="translate(893.5,944) scale(0.93,1)"><text x="0" y="0" font-size="10" fill="#000" text-anchor="start" font-family="'Liberation Sans',sans-serif" >28 Feb 2021</text></g><rect x="958" y="932" width="1" height="3" fill="#000"/><g transform="translate(957.5,944) scale(0.93,1)"><text x="0" y="0" font-size="10" fill="#000" text-anchor="start" font-family="'Liberation Sans',sans-serif" >9 Mar 2021</text></g><rect x="1022" y="932" width="1" height="3" fill="#000"/><g transform="translate(1021.5,944) scale(0.93,1)"><text x="0" y="0" font-size="10" fill="#000" text-anchor="start" font-family="'Liberation Sans',sans-serif" >18 Mar 2021</text></g><rect x="1086" y="932" width="1" height="3" fill="#000"/><g transform="translate(1085.5,944) scale(0.93,1)"><text x="0" y="0" font-size="10" fill="#000" text-anchor="start" font-family="'Liberation Sans',sans-serif" >28 Mar 2021</text></g><rect x="1150" y="932" width="1" height="3" fill="#000"/><g transform="translate(1149.5,944) scale(0.93,1)"><text x="0" y="0" font-size="10" fill="#000" text-anchor="start" font-family="'Liberation Sans',sans-serif" >7 Apr 2021</text></g><rect x="1214" y="932" width="1" height="3" fill="#000"/><g transform="translate(1213.5,944) scale(0.93,1)"><text x="0" y="0" font-size="10" fill="#000" text-anchor="start" font-family="'Liberation Sans',sans-serif" >16 Apr 2021</text></g><rect x="1278" y="932" width="1" height="3" fill="#000"/><g transform="translate(1277.5,944) scale(0.93,1)"><text x="0" y="0" font-size="10" fill="#000" text-anchor="start" font-family="'Liberation Sans',sans-serif" >26 Apr 2021</text></g><rect x="1342" y="932" width="1" height="3" fill="#000"/><g transform="translate(1341.5,944) scale(0.93,1)"><text x="0" y="0" font-size="10" fill="#000" text-anchor="start" font-family="'Liberation Sans',sans-serif" >5 May 2021</text></g><rect x="1406" y="932" width="1" height="3" fill="#000"/><g transform="translate(1405.5,944) scale(0.93,1)"><text x="0" y="0" font-size="10" fill="#000" text-anchor="start" font-family="'Liberation Sans',sans-serif" >14 May 2021</text></g><rect x="1470" y="932" width="1" height="3" fill="#000"/><g transform="translate(1469.5,944) scale(0.93,1)"><text x="0" y="0" font-size="10" fill="#000" text-anchor="start" font-family="'Liberation Sans',sans-serif" >24 May 2021</text></g><rect x="0" y="0" width="1732" height="26" fill="#f0f0f0"/><rect x="0" y="26" width="1732" height="1" fill="#a0a0a0"/><rect x="0" y="27" width="1732" height="1" fill="#6a6a6a"/><defs><pattern id="chk" width="2" height="2" patternUnits="userSpaceOnUse"><rect width="2" height="2" fill="#fbfbfb"/><rect width="1" height="1" fill="#eeeeee"/><rect x="1" y="1" width="1" height="1" fill="#eeeeee"/></pattern><linearGradient id="gold" x1="0" y1="0" x2="1" y2="1"><stop offset="0" stop-color="#fff08a"/><stop offset="0.5" stop-color="#e8b820"/><stop offset="1" stop-color="#c08810"/></linearGradient><linearGradient id="blu" x1="0" y1="0" x2="0" y2="1"><stop offset="0" stop-color="#5ab4f8"/><stop offset="1" stop-color="#0a78e0"/></linearGradient><linearGradient id="cld" x1="0" y1="0" x2="0" y2="1"><stop offset="0" stop-color="#ffffff"/><stop offset="1" stop-color="#b8c8e0"/></linearGradient><radialGradient id="sig" cx="0.5" cy="0.5" r="0.5"><stop offset="0" stop-color="#fff"/><stop offset="1" stop-color="#c8e0c8"/></radialGradient></defs><rect x="0" y="25" width="1732" height="1" fill="#f8f8f8"/><rect x="0" y="0" width="1732" height="1" fill="#fcfcfc"/><rect x="-6.5" y="7.5" width="15" height="13" fill="#fff" stroke="#3a78c8" stroke-width="1.2"/><rect x="-5" y="10" width="12" height="1" fill="#b8d0f0"/><rect x="-5" y="12" width="12" height="1" fill="#b8d0f0"/><rect x="-5" y="14" width="12" height="1" fill="#b8d0f0"/><rect x="-5" y="16" width="12" height="1" fill="#b8d0f0"/><rect x="-5" y="18" width="12" height="1" fill="#b8d0f0"/><rect x="21.5" y="6.5" width="12" height="13" fill="#fafafa" stroke="#b0a490" stroke-width="1"/><path d="M24 9v8M26 8v3M30 8v6" stroke="#606060" stroke-width="1"/><line x1="32" y1="18" x2="37.5" y2="23" stroke="#b08a10" stroke-width="2.6" shape-rendering="auto"/><circle cx="29" cy="15" r="4.3" fill="#d8ecfa" fill-opacity="0.85" stroke="#5a8ed8" stroke-width="1" shape-rendering="auto"/><rect x="46" y="3" width="1" height="21" fill="#a0a0a0"/><rect x="47" y="3" width="1" height="21" fill="#fff"/><path d="M56.5 6.5h8l3 3v11h-11z" fill="#fff" stroke="#707070" stroke-width="1"/><rect x="58" y="9" width="3" height="1" fill="#909090"/><rect x="58" y="12" width="7" height="1" fill="#909090"/><rect x="58" y="15" width="6" height="1" fill="#909090"/><path d="M64 12h4v4h4v4h-4v4h-4v-4h-4v-4h4z" fill="#30d030" stroke="#109010" stroke-width="1" shape-rendering="auto"/><text x="74.5" y="18" font-size="12" fill="#000" font-family="'Liberation Sans','Noto Sans CJK SC',sans-serif">新订单</text><path d="M128.5 7.5 L137.5 13.5 L138.5 15.5 L131 21.8 L123.5 16.5 L123.8 15 Q127 12.5 128.5 7.5z" fill="url(#gold)" stroke="#9a5e10" stroke-width="1" shape-rendering="auto"/><path d="M124.5 15.8 L131.2 20.2 L137.4 14.6" fill="none" stroke="#fff4c0" stroke-width="1.1" shape-rendering="auto"/><path d="M131 19.3 L136.8 14" fill="none" stroke="#b07818" stroke-width="0.7" shape-rendering="auto"/><g shape-rendering="auto"><path d="M153.5 6.5 L162.5 6.5 L164.5 8.5 L164.5 16.5 L153.5 16.5z" fill="#1a8cf0" stroke="#1a6ad0" stroke-width="0.7"/><path d="M156.5 9.3 L164 9.3 L164 16 L156.5 16z" fill="url(#blu)"/><path d="M154 7 L156.6 9.3 L156.6 15" fill="none" stroke="#e8f6ff" stroke-width="0.9"/><path d="M158.5 11.2 L163 10.4" stroke="#fff" stroke-width="1.3"/></g><path d="M152 21.5 Q150.5 17 154.5 17 Q155.5 14 159 15 Q161 13 163 16 Q166.5 16 166 19.5 Q166 21.5 164 21.5z" fill="url(#cld)" stroke="#3a5a9a" stroke-width="1" shape-rendering="auto"/><g shape-rendering="auto" fill="none"><circle cx="187" cy="14" r="7.5" fill="url(#sig)" stroke="#6a9ad8" stroke-width="1"/><circle cx="187" cy="14" r="4.8" stroke="#7aa0e0" stroke-width="1"/><path d="M187 6.5 A7.5 7.5 0 0 1 187 21.5" stroke="#3a9a4a" stroke-width="1.2"/><path d="M187 9.2 A4.8 4.8 0 0 1 187 18.8" stroke="#7ab87a" stroke-width="1"/><circle cx="187" cy="13.5" r="1.8" fill="#2050c8"/><path d="M187.5 14 V21.5" stroke="#20a020" stroke-width="1.4"/></g><g shape-rendering="auto"><path d="M206.5 13.5 L222 12 L213 21.5z" fill="#f8e060" stroke="#c89820" stroke-width="0.8"/><ellipse cx="214.5" cy="10.5" rx="7.8" ry="2.6" fill="#5ab0e8" stroke="#1a78b8" stroke-width="0.8"/><ellipse cx="214" cy="8.5" rx="3.5" ry="2.8" fill="#7ac4f0" stroke="#1a78b8" stroke-width="0.8"/><circle cx="218.5" cy="17.5" r="3.9" fill="#e02010" stroke="#a01000" stroke-width="0.8"/><rect x="217" y="16" width="3" height="3" fill="#fff"/></g><text x="227.5" y="18" font-size="12" fill="#000" font-family="'Liberation Sans','Noto Sans CJK SC',sans-serif">自动交易</text><rect x="282" y="1" width="1" height="25" fill="#a0a0a0"/><rect x="283" y="1" width="1" height="25" fill="#fff"/><rect x="286" y="4" width="3" height="1" fill="#8c8c8c"/><rect x="286" y="6" width="3" height="1" fill="#8c8c8c"/><rect x="286" y="8" width="3" height="1" fill="#8c8c8c"/><rect x="286" y="10" width="3" height="1" fill="#8c8c8c"/><rect x="286" y="12" width="3" height="1" fill="#8c8c8c"/><rect x="286" y="14" width="3" height="1" fill="#8c8c8c"/><rect x="286" y="16" width="3" height="1" fill="#8c8c8c"/><rect x="286" y="18" width="3" height="1" fill="#8c8c8c"/><rect x="286" y="20" width="3" height="1" fill="#8c8c8c"/><rect x="286" y="22" width="3" height="1" fill="#8c8c8c"/><rect x="300" y="8" width="1" height="14" fill="#505050"/><path d="M298.5 10.5 L300.5 7.5 L302.5 10.5z" fill="#505050" shape-rendering="auto"/><rect x="298" y="19" width="14" height="1" fill="#505050"/><path d="M310 17.5 L313 19.5 L310 21.5z" fill="#505050" shape-rendering="auto"/><path d="M306 9v8M306 10h2M304 16h2" stroke="#109010" stroke-width="1" fill="none"/><rect x="306" y="9" width="1" height="8" fill="#109010"/><rect x="307" y="10" width="2" height="1" fill="#109010"/><rect x="304" y="16" width="2" height="1" fill="#109010"/><rect x="320" y="2" width="25" height="23" fill="url(#chk)"/><rect x="320" y="2" width="25" height="1" fill="#a0a0a0"/><rect x="320" y="2" width="1" height="23" fill="#a0a0a0"/><rect x="320" y="25" width="26" height="1" fill="#fff"/><rect x="345" y="2" width="1" height="23" fill="#fff"/><rect x="328" y="8" width="1" height="14" fill="#505050"/><path d="M326.5 10.5 L328.5 7.5 L330.5 10.5z" fill="#505050" shape-rendering="auto"/><rect x="326" y="19" width="14" height="1" fill="#505050"/><path d="M338 17.5 L341 19.5 L338 21.5z" fill="#505050" shape-rendering="auto"/><rect x="334" y="6" width="1" height="12" fill="#108010"/><rect x="332" y="8" width="5" height="8" fill="#30d030" stroke="#108010" stroke-width="1" shape-rendering="auto"/><rect x="356" y="8" width="1" height="14" fill="#505050"/><path d="M354.5 10.5 L356.5 7.5 L358.5 10.5z" fill="#505050" shape-rendering="auto"/><rect x="354" y="19" width="14" height="1" fill="#505050"/><path d="M366 17.5 L369 19.5 L366 21.5z" fill="#505050" shape-rendering="auto"/><path d="M355 16.5 Q361 8 363.5 11.5 Q365.5 13.5 367.5 15" fill="none" stroke="#30a030" stroke-width="1" shape-rendering="auto"/><rect x="377" y="3" width="1" height="21" fill="#a0a0a0"/><rect x="378" y="3" width="1" height="21" fill="#fff"/><line x1="395.1" y1="15.5" x2="400.6" y2="21" stroke="#a07a10" stroke-width="3.2" shape-rendering="auto"/><line x1="395.1" y1="15.5" x2="400.6" y2="21" stroke="#f0d050" stroke-width="1.6" shape-rendering="auto"/><circle cx="391.6" cy="12" r="5.3" fill="#dceefa" stroke="#3a78c8" stroke-width="1.3" shape-rendering="auto"/><rect x="388.6" y="11.25" width="6" height="1.6" fill="#4a88c0" shape-rendering="auto"/><rect x="390.85" y="9" width="1.6" height="6" fill="#4a88c0" shape-rendering="auto"/><line x1="423.2" y1="15.5" x2="428.7" y2="21" stroke="#a07a10" stroke-width="3.2" shape-rendering="auto"/><line x1="423.2" y1="15.5" x2="428.7" y2="21" stroke="#f0d050" stroke-width="1.6" shape-rendering="auto"/><circle cx="419.7" cy="12" r="5.3" fill="#dceefa" stroke="#3a78c8" stroke-width="1.3" shape-rendering="auto"/><rect x="416.7" y="11.25" width="6" height="1.6" fill="#4a88c0" shape-rendering="auto"/><rect x="442" y="6" width="8" height="8" fill="#2c9a1c"/><rect x="443" y="9" width="6" height="4" fill="#fff"/><rect x="444" y="10" width="4" height="1" fill="#2c9a1c" fill-opacity="0.5"/><rect x="450" y="6" width="8" height="8" fill="#1a54d0"/><rect x="451" y="9" width="6" height="4" fill="#fff"/><rect x="452" y="10" width="4" height="1" fill="#1a54d0" fill-opacity="0.5"/><rect x="442" y="14" width="8" height="8" fill="#1a54d0"/><rect x="443" y="17" width="6" height="4" fill="#fff"/><rect x="444" y="18" width="4" height="1" fill="#1a54d0" fill-opacity="0.5"/><rect x="450" y="14" width="8" height="8" fill="#2c9a1c"/><rect x="451" y="17" width="6" height="4" fill="#fff"/><rect x="452" y="18" width="4" height="1" fill="#2c9a1c" fill-opacity="0.5"/><rect x="467" y="3" width="1" height="21" fill="#a0a0a0"/><rect x="468" y="3" width="1" height="21" fill="#fff"/><rect x="472" y="2" width="25" height="23" fill="url(#chk)"/><rect x="472" y="2" width="25" height="1" fill="#a0a0a0"/><rect x="472" y="2" width="1" height="23" fill="#a0a0a0"/><rect x="472" y="25" width="26" height="1" fill="#fff"/><rect x="497" y="2" width="1" height="23" fill="#fff"/><rect x="480" y="8" width="1" height="14" fill="#505050"/><path d="M478.5 10.5 L480.5 7.5 L482.5 10.5z" fill="#505050" shape-rendering="auto"/><rect x="478" y="19" width="14" height="1" fill="#505050"/><path d="M490 17.5 L493 19.5 L490 21.5z" fill="#505050" shape-rendering="auto"/><path d="M485 10 L489.5 13.5 L485 17z" fill="#20b020" stroke="#108010" stroke-width="0.8" shape-rendering="auto"/><rect x="500" y="2" width="25" height="23" fill="url(#chk)"/><rect x="500" y="2" width="25" height="1" fill="#a0a0a0"/><rect x="500" y="2" width="1" height="23" fill="#a0a0a0"/><rect x="500" y="25" width="26" height="1" fill="#fff"/><rect x="525" y="2" width="1" height="23" fill="#fff"/><rect x="508" y="8" width="1" height="14" fill="#505050"/><path d="M506.5 10.5 L508.5 7.5 L510.5 10.5z" fill="#505050" shape-rendering="auto"/><rect x="506" y="19" width="14" height="1" fill="#505050"/><path d="M518 17.5 L521 19.5 L518 21.5z" fill="#505050" shape-rendering="auto"/><rect x="514" y="8" width="1" height="10" fill="#1a70b0"/><path d="M515.5 13.5 L519 11 L518 13 L521 13 L521 14 L518 14 L519 16z" fill="#e05010" shape-rendering="auto"/><rect x="529" y="3" width="1" height="21" fill="#a0a0a0"/><rect x="530" y="3" width="1" height="21" fill="#fff"/><path d="M539.5 6.5h8l3 3v11h-11z" fill="#fff" stroke="#707070" stroke-width="1"/><rect x="541" y="9" width="3" height="1" fill="#909090"/><rect x="541" y="12" width="7" height="1" fill="#909090"/><rect x="541" y="15" width="6" height="1" fill="#909090"/><text x="541" y="16" font-size="8" font-style="italic" fill="#555" font-family="'Liberation Sans',sans-serif">f</text><path d="M547 12h4v4h4v4h-4v4h-4v-4h-4v-4h4z" fill="#30d030" stroke="#109010" stroke-width="1" shape-rendering="auto"/><path d="M560.5 13h6l-3 3z" fill="#000" shape-rendering="auto"/><g shape-rendering="auto"><circle cx="585" cy="14" r="6.8" fill="#fff" stroke="#1560c8" stroke-width="2.4"/><path d="M585 9.5V14h3" fill="none" stroke="#202020" stroke-width="1.2"/><g fill="#909090"><circle cx="585" cy="9" r="0.5"/><circle cx="590" cy="14" r="0.5"/><circle cx="585" cy="19" r="0.5"/><circle cx="580" cy="14" r="0.5"/><circle cx="588.5" cy="10.5" r="0.4"/><circle cx="588.5" cy="17.5" r="0.4"/><circle cx="581.5" cy="17.5" r="0.4"/><circle cx="581.5" cy="10.5" r="0.4"/></g></g><path d="M599.5 13h6l-3 3z" fill="#000" shape-rendering="auto"/><rect x="616.5" y="7.5" width="15" height="13" fill="#fff" stroke="#2a6ad0" stroke-width="1"/><rect x="617" y="8" width="14" height="2" fill="#8ab4ec"/><rect x="617" y="14" width="14" height="1" fill="#2a6ad0"/><path d="M618 13.5 L620.5 12.8 L622.5 11.2 L624.5 12.3 L626.5 11.5 L629 10.8" fill="none" stroke="#a02010" stroke-width="1.1" shape-rendering="auto"/><path d="M619 18.5 L621 17.2 L623 18.3 L625.5 16 L627.5 16.8 L629.5 18.8" fill="none" stroke="#20a020" stroke-width="1.1" shape-rendering="auto"/><path d="M638.5 13h6l-3 3z" fill="#000" shape-rendering="auto"/><rect x="650" y="1" width="1" height="25" fill="#a0a0a0"/><rect x="651" y="1" width="1" height="25" fill="#fff"/><rect x="654" y="4" width="3" height="1" fill="#8c8c8c"/><rect x="654" y="6" width="3" height="1" fill="#8c8c8c"/><rect x="654" y="8" width="3" height="1" fill="#8c8c8c"/><rect x="654" y="10" width="3" height="1" fill="#8c8c8c"/><rect x="654" y="12" width="3" height="1" fill="#8c8c8c"/><rect x="654" y="14" width="3" height="1" fill="#8c8c8c"/><rect x="654" y="16" width="3" height="1" fill="#8c8c8c"/><rect x="654" y="18" width="3" height="1" fill="#8c8c8c"/><rect x="654" y="20" width="3" height="1" fill="#8c8c8c"/><rect x="654" y="22" width="3" height="1" fill="#8c8c8c"/><rect x="660" y="2" width="25" height="23" fill="url(#chk)"/><rect x="660" y="2" width="25" height="1" fill="#a0a0a0"/><rect x="660" y="2" width="1" height="23" fill="#a0a0a0"/><rect x="660" y="25" width="26" height="1" fill="#fff"/><rect x="685" y="2" width="1" height="23" fill="#fff"/><path d="M668 7 L668 18 L670.5 15.5 L672.5 20.5 L674.5 19.5 L672.5 15 L676 14.5z" fill="#505050" shape-rendering="auto"/><rect x="700" y="7" width="1" height="6" fill="#505050"/><rect x="700" y="16" width="1" height="6" fill="#505050"/><rect x="693" y="14" width="6" height="1" fill="#505050"/><rect x="702" y="14" width="6" height="1" fill="#505050"/><rect x="717" y="3" width="1" height="21" fill="#a0a0a0"/><rect x="718" y="3" width="1" height="21" fill="#fff"/><rect x="734" y="8" width="1" height="13" fill="#505050"/><rect x="757" y="14" width="12" height="1" fill="#505050"/><line x1="785" y1="21" x2="797" y2="9" stroke="#505050" stroke-width="1" shape-rendering="auto"/><g shape-rendering="auto" stroke="#505050" stroke-width="1" fill="none"><line x1="811" y1="15" x2="819" y2="7.5"/><line x1="813" y1="20" x2="825" y2="8"/><line x1="816" y1="21" x2="824" y2="13"/><path d="M814 16v3M817 13v4M820 11v4M823 6v5"/></g><text x="822" y="23" font-size="6.5" font-weight="bold" fill="#404040" font-family="'Liberation Sans',sans-serif">E</text><path d="M840 7h14" stroke="#404040" stroke-dasharray="1 1" stroke-width="1"/><path d="M840 10h14" stroke="#404040" stroke-dasharray="1 1" stroke-width="1"/><path d="M840 14h14" stroke="#404040" stroke-dasharray="1 1" stroke-width="1"/><path d="M840 18h9" stroke="#404040" stroke-dasharray="1 1" stroke-width="1"/><text x="850" y="23" font-size="6.5" font-weight="bold" fill="#404040" font-family="'Liberation Sans',sans-serif">F</text><text x="870.5" y="19" font-size="12" fill="#505050" font-family="'Liberation Sans',sans-serif">A</text><rect x="897.5" y="8.5" width="11" height="12" fill="none" stroke="#505050" stroke-dasharray="1 1"/><text x="899.5" y="18.5" font-size="11" font-weight="bold" fill="#505050" font-family="'Liberation Sans',sans-serif">T</text><path d="M924 12.5 L928.5 8 L933 12.5z M930.5 16.5 L934.5 21 L938.5 16.5z" fill="#505050" shape-rendering="auto"/><path d="M925.5 14.5 L928.8 17.6 L933 13.2" fill="none" stroke="#505050" stroke-width="1.3" shape-rendering="auto"/><path d="M944.5 13h6l-3 3z" fill="#000" shape-rendering="auto"/><rect x="956" y="1" width="1" height="25" fill="#a0a0a0"/><rect x="957" y="1" width="1" height="25" fill="#fff"/><rect x="960" y="4" width="3" height="1" fill="#8c8c8c"/><rect x="960" y="6" width="3" height="1" fill="#8c8c8c"/><rect x="960" y="8" width="3" height="1" fill="#8c8c8c"/><rect x="960" y="10" width="3" height="1" fill="#8c8c8c"/><rect x="960" y="12" width="3" height="1" fill="#8c8c8c"/><rect x="960" y="14" width="3" height="1" fill="#8c8c8c"/><rect x="960" y="16" width="3" height="1" fill="#8c8c8c"/><rect x="960" y="18" width="3" height="1" fill="#8c8c8c"/><rect x="960" y="20" width="3" height="1" fill="#8c8c8c"/><rect x="960" y="22" width="3" height="1" fill="#8c8c8c"/><rect x="1134" y="2" width="25" height="23" fill="url(#chk)"/><rect x="1134" y="2" width="25" height="1" fill="#a0a0a0"/><rect x="1134" y="2" width="1" height="23" fill="#a0a0a0"/><rect x="1134" y="25" width="26" height="1" fill="#fff"/><rect x="1159" y="2" width="1" height="23" fill="#fff"/><text x="972" y="18" font-size="10" fill="#3a3a3a" textLength="12.4" lengthAdjust="spacingAndGlyphs" font-family="'Liberation Sans',sans-serif">M1</text><text x="999.6" y="18" font-size="10" fill="#3a3a3a" textLength="12.7" lengthAdjust="spacingAndGlyphs" font-family="'Liberation Sans',sans-serif">M5</text><text x="1025.6" y="18" font-size="10" fill="#3a3a3a" textLength="17.7" lengthAdjust="spacingAndGlyphs" font-family="'Liberation Sans',sans-serif">M15</text><text x="1053.6" y="18" font-size="10" fill="#3a3a3a" textLength="17.6" lengthAdjust="spacingAndGlyphs" font-family="'Liberation Sans',sans-serif">M30</text><text x="1084.5" y="18" font-size="10" fill="#3a3a3a" textLength="12" lengthAdjust="spacingAndGlyphs" font-family="'Liberation Sans',sans-serif">H1</text><text x="1111.7" y="18" font-size="10" fill="#3a3a3a" textLength="11.2" lengthAdjust="spacingAndGlyphs" font-family="'Liberation Sans',sans-serif">H4</text><text x="1140.2" y="18" font-size="10" fill="#3a3a3a" textLength="12" lengthAdjust="spacingAndGlyphs" font-family="'Liberation Sans',sans-serif">D1</text><text x="1167.5" y="18" font-size="10" fill="#3a3a3a" textLength="15" lengthAdjust="spacingAndGlyphs" font-family="'Liberation Sans',sans-serif">W1</text><text x="1194.3" y="18" font-size="10" fill="#3a3a3a" textLength="15.4" lengthAdjust="spacingAndGlyphs" font-family="'Liberation Sans',sans-serif">MN</text><rect x="1217" y="1" width="1" height="25" fill="#a0a0a0"/><rect x="1218" y="1" width="1" height="25" fill="#fff"/><g shape-rendering="auto"><line x1="1679" y1="18.5" x2="1683.5" y2="14" stroke="#1a50c0" stroke-width="2.2"/><circle cx="1687.3" cy="11" r="3.8" fill="#fff" stroke="#2a60d0" stroke-width="1.3"/></g><g shape-rendering="auto"><path d="M1705 14 Q1705 11 1710 11 Q1716 11 1716 15 Q1716 19 1710 19 L1708 22 L1708 19 Q1705 18 1705 14z" fill="#e8e8ee" stroke="#b8b8c0" stroke-width="0.8"/><circle cx="1718.4" cy="11.5" r="7.6" fill="#e03420" stroke="#c02010" stroke-width="0.6"/></g><text x="1718.4" y="15.8" font-size="12.5" font-weight="bold" fill="#fff" text-anchor="middle" font-family="'Liberation Sans',sans-serif">1</text>
</svg>
</body></html>
